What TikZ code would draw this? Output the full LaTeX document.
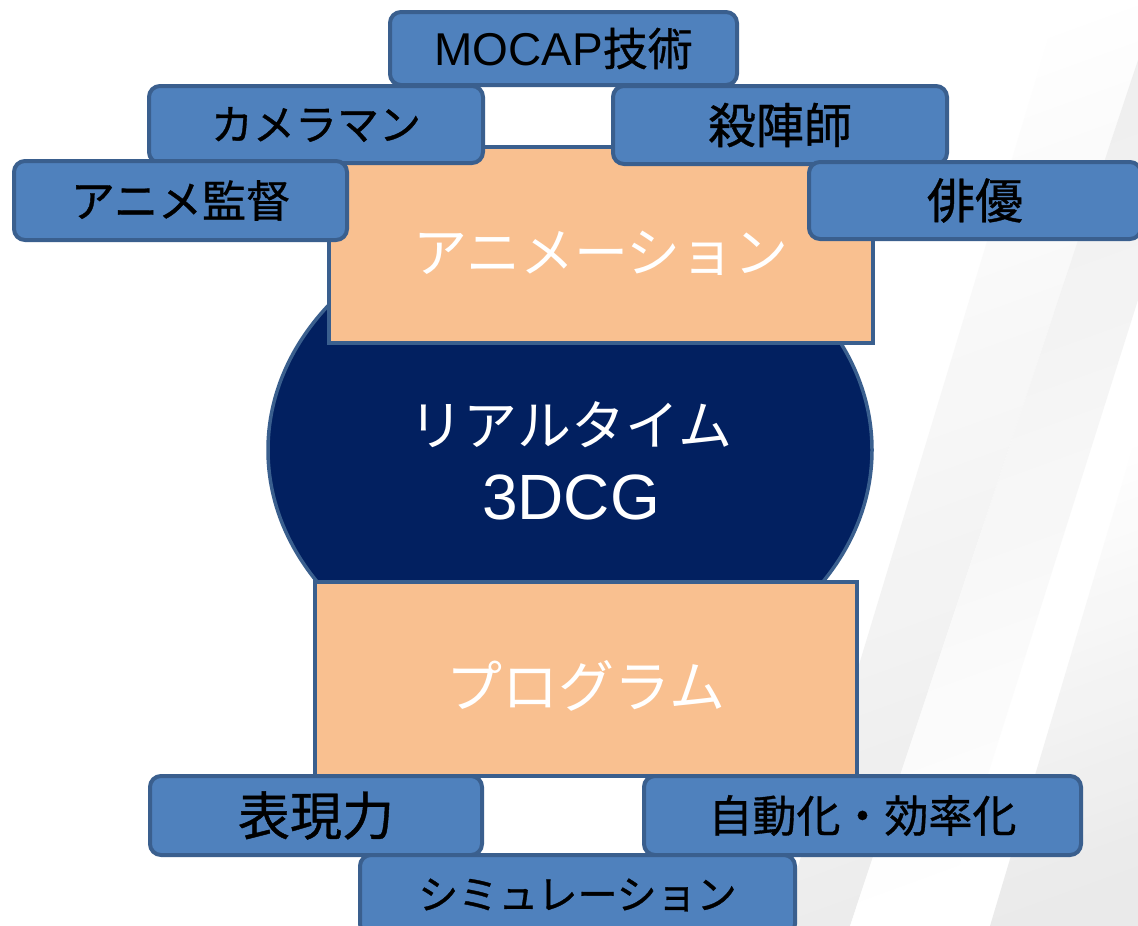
\documentclass[tikz,border=0pt]{standalone}
\usepackage{fontspec}
\usetikzlibrary{shapes.geometric}
\newfontfamily\jp{Noto Sans CJK JP}
\newfontfamily\jpk[FakeBold=0.8]{Noto Sans CJK JP}
\newfontfamily\lat{Liberation Sans}
\newcommand\setfs[1]{\fontsize{#1}{#1}\selectfont}
\definecolor{boxblue}{HTML}{4F81BD}
\definecolor{boxline}{HTML}{3A5F8E}
\definecolor{peach}{HTML}{F9C090}
\definecolor{navy}{HTML}{022060}
\begin{document}
\begin{tikzpicture}[x=1pt,y=-1pt,
  tag/.style={draw=boxline, fill=boxblue, line width=4pt, rounded corners=11pt, inner sep=0pt, text=black},
  panel/.style={draw=boxline, fill=peach, line width=3.5pt, inner sep=0pt, text=white},
  core/.style={ellipse, draw=boxline, fill=navy, line width=3.5pt, inner sep=0pt, text=white}]
\useasboundingbox (0,0) rectangle (1138,926);
\clip (0,0) rectangle (1138,926);
\fill[white] (0,0) rectangle (1138,926);
% faint fabric streaks in the background
\shade[left color=white, right color=black!9, shading angle=20, opacity=0.8]
  (1060,0) -- (1138,0) -- (1138,60) -- (850,926) -- (780,926) -- cycle;
\shade[left color=black!8, right color=white, shading angle=20, opacity=0.8]
  (1138,60) -- (1138,300) -- (940,926) -- (850,926) -- cycle;
\shade[left color=white, right color=black!10, shading angle=20, opacity=0.8]
  (1138,430) -- (1138,926) -- (990,926) -- cycle;
% central ellipse
\node[core, minimum width=604pt, minimum height=482pt] (cg) at (570,450) {};
\node[text=white, align=center, inner sep=0pt] (cgtext) at (571,461)
  {{\jp\setfs{54}リアルタイム}\\[26pt]{\lat\setfs{64}3DCG}};
% panels
\node[panel, minimum width=544pt, minimum height=196pt] (anim) at (601,245) {};
\node[text=white, inner sep=0pt] (animtext) at (601,253) {\jp\setfs{54}アニメーション};
\node[panel, minimum width=542pt, minimum height=194pt] (prog) at (586,679) {};
\node[text=white, inner sep=0pt] (progtext) at (586,686) {\jp\setfs{56}プログラム};
% top tags
\node[tag, minimum width=347pt, minimum height=73pt] (mocap) at (563.5,48.5)
  {{\lat\setfs{46}MOCAP}{\jpk\setfs{45}技術}};
\node[tag, minimum width=334pt, minimum height=77pt] (camera) at (316,124.5)
  {\jpk\setfs{42}カメラマン};
\node[tag, minimum width=334pt, minimum height=78pt] (tate) at (780,125)
  {\jpk\setfs{48}殺陣師};
\node[tag, minimum width=333pt, minimum height=79pt] (kantoku) at (180.5,200.5)
  {\jpk\setfs{44}アニメ監督};
\node[tag, minimum width=332pt, minimum height=77pt] (haiyu) at (975,200.5)
  {\jpk\setfs{48}俳優};
% bottom tags
\node[tag, minimum width=332pt, minimum height=79pt] (hyogen) at (316,815.5)
  {\jpk\setfs{52}表現力};
\node[tag, minimum width=437pt, minimum height=79pt] (jido) at (862.5,815.5)
  {\jpk\setfs{44}自動化・効率化};
\node[tag, minimum width=435pt, minimum height=80pt] (sim) at (577.5,895)
  {\jpk\setfs{40}シミュレーション};
\end{tikzpicture}
\end{document}
